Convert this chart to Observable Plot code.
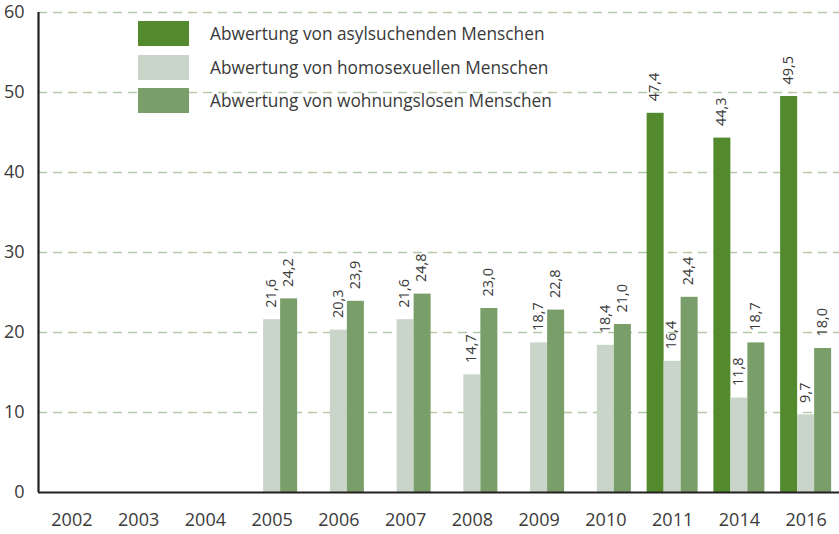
<!DOCTYPE html>
<html><head><meta charset="utf-8">
<script src="https://cdn.jsdelivr.net/npm/d3@7"></script>
<script src="https://cdn.jsdelivr.net/npm/@observablehq/plot@0.6"></script>
<style>
body{margin:0;background:#fff;font-family:"Open Sans",sans-serif;}
#wrap{position:relative;width:839px;height:534px;}
#legend{position:absolute;left:138px;top:21px;}
.li{display:flex;align-items:center;height:25px;margin-bottom:8.5px;}
.sw{width:51px;height:25px;margin-right:21px;}
.lt{font-size:17.3px;color:#3a3a3a;font-weight:400;white-space:nowrap;}
</style></head>
<body><div id="wrap"><div id="chart"></div><div id="legend"></div></div>
<script>
const years = ["2002","2003","2004","2005","2006","2007","2008","2009","2010","2011","2014","2016"];
const seriesNames = ["Abwertung von asylsuchenden Menschen","Abwertung von homosexuellen Menschen","Abwertung von wohnungslosen Menschen"];
const colors = ["#548a2e","#c9d5c8","#7a9e6a"];
const asyl = [null,null,null,null,null,null,null,null,null,47.4,44.3,49.5];
const homo = [null,null,null,21.6,20.3,21.6,14.7,18.7,18.4,16.4,11.8,9.7];
const wohn = [null,null,null,24.2,23.9,24.8,23.0,22.8,21.0,24.4,18.7,18.0];
const yTicks = [0,10,20,30,40,50,60];

const seriesVals = [asyl, homo, wohn];
const barW = 17;
const step = 801 / 12;
const fmt = v => d3.format(".1f")(v).replace(".", ",");
const font = "'Open Sans', sans-serif";

const marks = [
  Plot.ruleY(yTicks.filter(t => t > 0), {stroke:"#b5c8aa", strokeWidth:1.3, strokeDasharray:"9,6"})
];
seriesVals.forEach((vals, i) => {
  const data = years.map((y, j) => ({year:y, value:vals[j]})).filter(d => d.value != null);
  const off = (i - 1) * barW;
  const inset = (step - barW) / 2;
  marks.push(Plot.barY(data, {x:"year", y:"value", fill:colors[i], dx:off, insetLeft:inset, insetRight:inset}));
  marks.push(Plot.text(data, {x:"year", y:"value", text:d => fmt(d.value), rotate:-90, textAnchor:"start", lineAnchor:"middle", dx:off - 1, dy:-12, fontSize:14.5, fill:"#3a3a3a", fontWeight:400}));
});
marks.push(Plot.ruleY([0], {stroke:"#231f20", strokeWidth:2.2}));
marks.push(Plot.ruleX([0], {x:() => years[0], stroke:"#231f20", strokeWidth:2.2, dx:-step/2}));

const chart = Plot.plot({
  width:839, height:534,
  marginLeft:38, marginRight:0, marginTop:12, marginBottom:42,
  style:{fontFamily:font, fontSize:"18px", color:"#3a3a3a", background:"#fff"},
  x:{type:"band", domain:years, padding:0, round:false, tickSize:0, tickPadding:21, label:null},
  y:{domain:[0,60], ticks:yTicks, tickSize:0, tickPadding:14, label:null, tickFormat:d=>String(d)},
  marks
});
document.getElementById("chart").appendChild(chart);

const lg = document.getElementById("legend");
seriesNames.forEach((n, i) => {
  const r = document.createElement("div"); r.className = "li";
  r.innerHTML = `<div class="sw" style="background:${colors[i]}"></div><div class="lt">${n}</div>`;
  lg.appendChild(r);
});
</script></body></html>
